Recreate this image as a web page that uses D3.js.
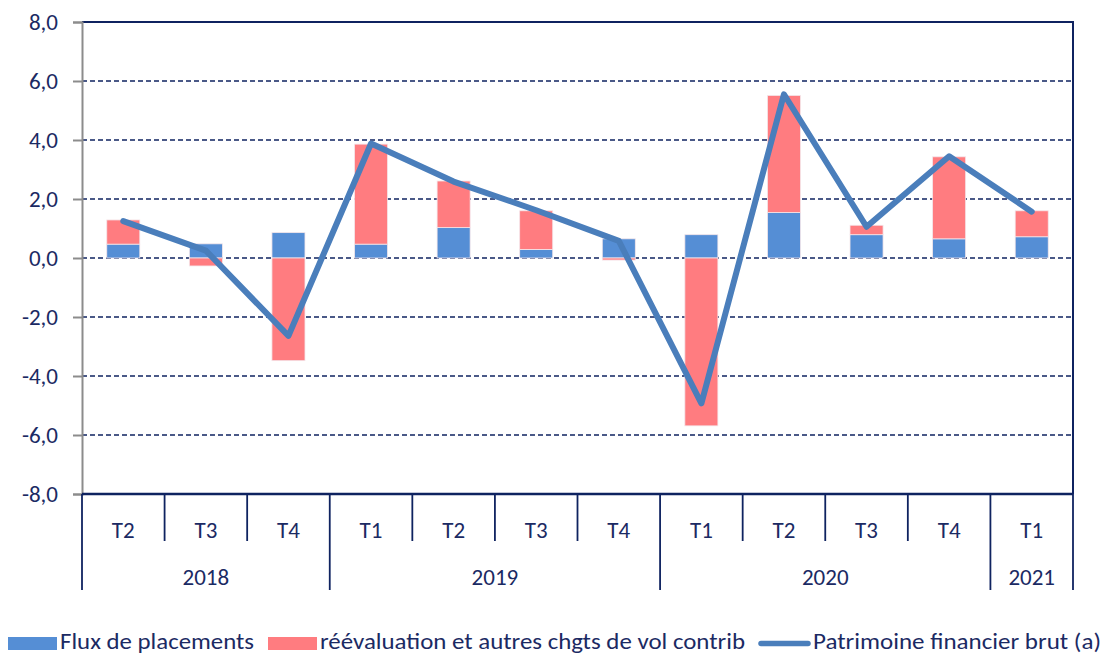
<!DOCTYPE html>
<html>
<head>
    <meta charset="utf-8">
    <script src="https://d3js.org/d3.v7.min.js"></script>
    <style>
        body { margin: 0; background: #fff; }
        text { font-family: Carlito, "Open Sans", "Noto Sans", sans-serif; fill: #1b2a63; }
    </style>
</head>
<body>
<script>
    // chart data
    const quarters = ["T2", "T3", "T4", "T1", "T2", "T3", "T4", "T1", "T2", "T3", "T4", "T1"];
    const years = [
        { label: "2018", start: 0, end: 3 },
        { label: "2019", start: 3, end: 7 },
        { label: "2020", start: 7, end: 11 },
        { label: "2021", start: 11, end: 12 }
    ];
    const flux = [0.47, 0.48, 0.86, 0.47, 1.03, 0.29, 0.65, 0.79, 1.54, 0.79, 0.65, 0.72];
    const reeval = [0.82, -0.27, -3.48, 3.39, 1.58, 1.31, -0.07, -5.69, 3.97, 0.32, 2.78, 0.88];
    const patrimoine = [1.25, 0.25, -2.64, 3.88, 2.59, 1.62, 0.58, -4.93, 5.55, 1.06, 3.45, 1.57];
    const yTicks = [-8, -6, -4, -2, 0, 2, 4, 6, 8];

    const W = 1103, H = 655;
    const plotLeft = 82, plotRight = 1073, plotTop = 22, plotBottom = 494;
    const fontSize = "23px";

    const svg = d3.select("body").append("svg")
        .attr("width", W)
        .attr("height", H);

    const x = d3.scaleBand()
        .domain(d3.range(quarters.length))
        .range([plotLeft, plotRight])
        .paddingInner(0.6)
        .paddingOuter(0.3);

    const xEdge = d3.scaleLinear()
        .domain([0, quarters.length])
        .range([plotLeft, plotRight]);

    const y = d3.scaleLinear()
        .domain([-8, 8])
        .range([plotBottom, plotTop]);

    // gridlines
    svg.append("g")
        .selectAll("line")
        .data(yTicks.filter(d => d > -8))
        .join("line")
        .attr("x1", plotLeft)
        .attr("x2", plotRight)
        .attr("y1", d => y(d))
        .attr("y2", d => y(d))
        .attr("stroke", "#0f2360")
        .attr("stroke-width", d => d === 8 ? 2 : 1.5)
        .attr("stroke-dasharray", d => d === 8 ? null : "5,3");

    // stacked bars: positive parts stack up, negative stack down
    const barData = [];
    flux.forEach((f, i) => {
        const r = reeval[i];
        let pos = 0, neg = 0;
        [[f, "#558ed5"], [r, "#ff7c80"]].forEach(([v, c]) => {
            if (v >= 0) { barData.push({ i, y0: pos, y1: pos + v, c }); pos += v; }
            else { barData.push({ i, y0: neg + v, y1: neg, c }); neg += v; }
        });
    });

    svg.append("g")
        .selectAll("rect")
        .data(barData)
        .join("rect")
        .attr("x", d => x(d.i))
        .attr("width", x.bandwidth())
        .attr("y", d => y(d.y1))
        .attr("height", d => y(d.y0) - y(d.y1))
        .attr("fill", d => d.c)
        .attr("stroke", "#f4e6ea")
        .attr("stroke-width", 0.8);

    // line series
    const line = d3.line()
        .x((d, i) => x(i) + x.bandwidth() / 2)
        .y(d => y(d));

    svg.append("path")
        .datum(patrimoine)
        .attr("d", line)
        .attr("fill", "none")
        .attr("stroke", "#4a7ebb")
        .attr("stroke-width", 6)
        .attr("stroke-linejoin", "round")
        .attr("stroke-linecap", "round");

    // y axis
    const yAxis = svg.append("g")
        .attr("transform", `translate(${plotLeft},0)`)
        .call(d3.axisLeft(y).tickValues(yTicks).tickSize(9).tickPadding(15)
            .tickFormat(d => d3.format(".1f")(d).replace(".", ",").replace("−", "-")));
    yAxis.select(".domain").attr("stroke", "#8c8c8c").attr("stroke-width", 2);
    yAxis.selectAll(".tick line").attr("stroke", "#8c8c8c").attr("stroke-width", 2);
    yAxis.selectAll(".tick text").style("font-size", fontSize).attr("fill", "#1b2a63");

    // right border
    svg.append("line")
        .attr("x1", plotRight).attr("x2", plotRight)
        .attr("y1", plotTop - 1).attr("y2", plotBottom)
        .attr("stroke", "#0f2360").attr("stroke-width", 2);

    // category axis
    svg.append("line")
        .attr("x1", plotLeft).attr("x2", plotRight)
        .attr("y1", plotBottom).attr("y2", plotBottom)
        .attr("stroke", "#0f2360").attr("stroke-width", 2.5);

    const yearEdges = [0, ...years.map(d => d.end)];
    svg.append("g")
        .selectAll("line")
        .data(d3.range(quarters.length + 1))
        .join("line")
        .attr("x1", d => xEdge(d))
        .attr("x2", d => xEdge(d))
        .attr("y1", plotBottom)
        .attr("y2", d => yearEdges.includes(d) ? 590 : 541)
        .attr("stroke", "#0f2360")
        .attr("stroke-width", 1.8);

    svg.append("g")
        .selectAll("text")
        .data(quarters)
        .join("text")
        .attr("x", (d, i) => xEdge(i + 0.5))
        .attr("y", 538)
        .attr("text-anchor", "middle")
        .style("font-size", fontSize)
        .text(d => d);

    svg.append("g")
        .selectAll("text")
        .data(years)
        .join("text")
        .attr("x", d => xEdge((d.start + d.end) / 2))
        .attr("y", 585)
        .attr("text-anchor", "middle")
        .style("font-size", fontSize)
        .text(d => d.label);

    // legend
    const legendItems = [
        { label: "Flux de placements", type: "rect", color: "#558ed5", x: 8, tx: 60, w: 194 },
        { label: "réévaluation et autres chgts de vol contrib", type: "rect", color: "#ff7c80", x: 268, tx: 320, w: 425 },
        { label: "Patrimoine financier brut (a)", type: "line", color: "#4a7ebb", x: 760, tx: 813, w: 288 }
    ];
    const lg = svg.append("g").selectAll("g")
        .data(legendItems)
        .join("g");
    lg.filter(d => d.type === "rect").append("rect")
        .attr("x", d => d.x).attr("y", 637)
        .attr("width", 49).attr("height", 13)
        .attr("fill", d => d.color);
    lg.filter(d => d.type === "line").append("line")
        .attr("x1", d => d.x + 1).attr("x2", d => d.x + 48)
        .attr("y1", 643.5).attr("y2", 643.5)
        .attr("stroke", d => d.color).attr("stroke-width", 5.5)
        .attr("stroke-linecap", "round");
    lg.append("text")
        .attr("x", d => d.tx)
        .attr("y", 649)
        .attr("textLength", d => d.w)
        .attr("lengthAdjust", "spacingAndGlyphs")
        .style("font-size", "22px")
        .text(d => d.label);
</script>
</body>
</html>
